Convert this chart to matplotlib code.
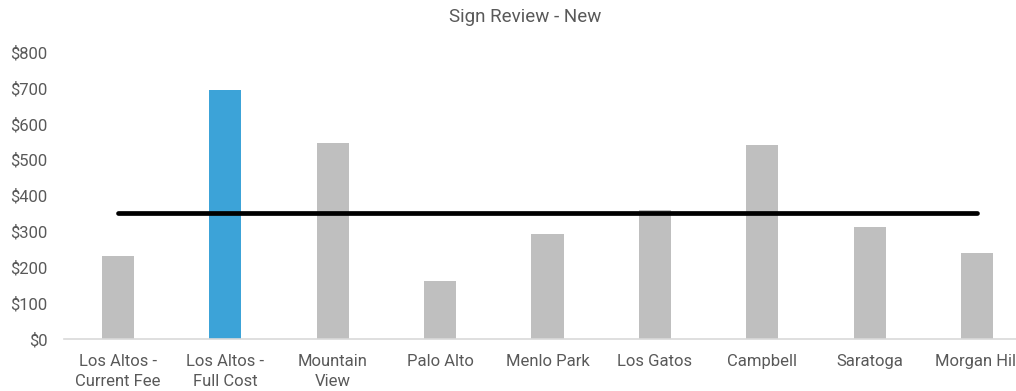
import matplotlib
matplotlib.use("Agg")
import matplotlib.pyplot as plt
import numpy as np

plt.rcParams['font.family'] = ['Roboto', 'DejaVu Sans']

categories = ["Los Altos -\nCurrent Fee", "Los Altos -\nFull Cost", "Mountain\nView",
              "Palo Alto", "Menlo Park", "Los Gatos", "Campbell", "Saratoga", "Morgan Hill"]
fees = [231, 694, 545, 162, 294, 359, 540, 311, 241]
highlight = 1  # Los Altos full cost
yticks = [0, 100, 200, 300, 400, 500, 600, 700, 800]

# Average across the comparison cities (everything after the two Los Altos bars)
average_fee = float(np.mean(fees[2:]))

W, H = 1016, 391
fig = plt.figure(figsize=(W / 100, H / 100), dpi=100)
ax = fig.add_axes([64.3 / W, 1 - 339 / H, (1030.7 - 64.3) / W, (339 - 52) / H])

x = np.arange(len(categories))
colors = ["#3CA3D8" if i == highlight else "#BFBFBF" for i in range(len(categories))]
ax.bar(x, fees, width=0.30, color=colors, zorder=2)
ax.plot([x[0], x[-1]], [average_fee, average_fee], color="black", lw=3.4,
        solid_capstyle="round", zorder=3)

ax.set_xlim(-0.5, len(categories) - 0.5)
ax.set_ylim(0, 800)
ax.set_yticks(yticks)
ax.set_yticklabels([f"${v}" for v in yticks])
ax.set_xticks(x)
ax.set_xticklabels(categories, linespacing=1.4)

for side in ("top", "right", "left"):
    ax.spines[side].set_visible(False)
ax.spines["bottom"].set_color("#D9D9D9")
ax.spines["bottom"].set_linewidth(1.2)
ax.tick_params(axis="both", length=0, labelsize=12, colors="#595959")
ax.tick_params(axis="y", pad=12)
ax.tick_params(axis="x", pad=11)

fig.text(525 / W, 1 - 17 / H, "Sign Review - New", ha="center", va="center",
         fontsize=13.5, color="#595959")

fig.savefig("out.png", dpi=100)
